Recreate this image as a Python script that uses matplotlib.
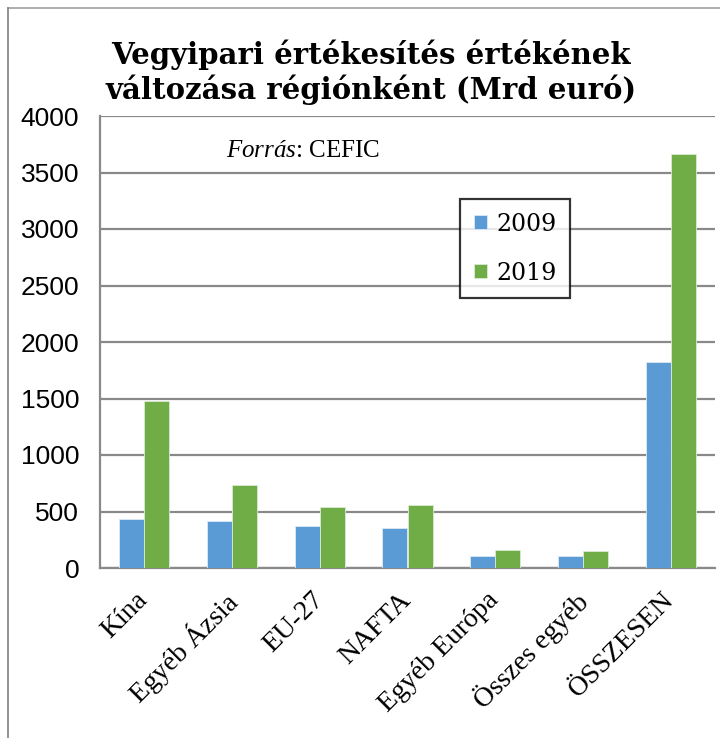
import numpy as np
import matplotlib.pyplot as plt
from matplotlib.lines import Line2D
from matplotlib.transforms import ScaledTranslation

# values (Mrd euro)
categories = ["Kína", "Egyéb Ázsia", "EU-27", "NAFTA", "Egyéb Európa",
              "Összes egyéb", "ÖSSZESEN"]
values_2009 = [435, 418, 372, 354, 102, 108, 1826]
values_2019 = [1482, 735, 537, 560, 160, 150, 3667]
series_names = ["2009", "2019"]
yticks = [0, 500, 1000, 1500, 2000, 2500, 3000, 3500, 4000]

blue = "#5B9BD5"
green = "#70AD47"
grid_grey = "#898989"

plt.rcParams["mathtext.fontset"] = "custom"
plt.rcParams["mathtext.rm"] = "Liberation Serif"
plt.rcParams["mathtext.it"] = "Liberation Serif:italic"

fig = plt.figure(figsize=(7.2, 7.38), dpi=100)
ax = fig.add_axes([100 / 720, 1 - 568 / 738, 615 / 720, 452 / 738])

x = np.arange(len(categories))
w = 0.285
ax.bar(x - w / 2, values_2009, w, color=blue, edgecolor="#dce9f5",
       linewidth=0.6, zorder=3, label=series_names[0])
ax.bar(x + w / 2, values_2019, w, color=green, edgecolor="#dcebd2",
       linewidth=0.6, zorder=3, label=series_names[1])

ax.set_xlim(-0.5, len(categories) - 0.5)
ax.set_ylim(0, 4000)
ax.set_yticks(yticks)
ax.set_yticklabels([str(v) for v in yticks], fontsize=19,
                   family="Liberation Sans")
ax.tick_params(axis="y", length=0, pad=15)
ax.tick_params(axis="x", length=0, pad=14)
ax.yaxis.grid(True, color=grid_grey, linewidth=1.6, zorder=0)
ax.set_axisbelow(True)

ax.set_xticks(x)
ax.set_xticklabels(categories, rotation=45, ha="right", va="top",
                   rotation_mode="anchor", fontsize=20,
                   family="Liberation Serif")
# nudge the slanted labels left so they end just past the group centre
shift = ScaledTranslation(-9 / 100, 0, fig.dpi_scale_trans)
for lbl in ax.get_xticklabels():
    lbl.set_transform(lbl.get_transform() + shift)

for side in ["top", "right"]:
    ax.spines[side].set_visible(False)
for side in ["left", "bottom"]:
    ax.spines[side].set_color(grid_grey)
    ax.spines[side].set_linewidth(1.6)

fig.text(0.515, 1 - 72 / 738,
         "Vegyipari értékesítés értékének\nváltozása régiónként (Mrd euró)",
         ha="center", va="center", fontsize=21, fontweight="bold",
         family="DejaVu Serif", linespacing=1.2)

ax.text(0.205, 0.922, "$\\it{Forrás}$: CEFIC", transform=ax.transAxes,
        fontsize=18, family="Liberation Serif", va="center")

leg = ax.legend(loc="upper left", bbox_to_anchor=((460 - 100) / 615, (568 - 199) / 452),
                frameon=True, fancybox=False, handlelength=0.55,
                handleheight=0.55, labelspacing=1.1, borderpad=0.58,
                borderaxespad=0, handletextpad=0.4,
                prop={"family": "DejaVu Serif", "size": 17})
leg.get_frame().set_edgecolor("black")
leg.get_frame().set_linewidth(1.6)

# outer chart border (top and left edges only visible)
fig.add_artist(Line2D([8 / 720, 1], [1 - 8 / 738, 1 - 8 / 738],
                      color="#a0a0a0", linewidth=1.2, transform=fig.transFigure))
fig.add_artist(Line2D([8 / 720, 8 / 720], [0, 1 - 8 / 738],
                      color="#808080", linewidth=1.2, transform=fig.transFigure))

fig.savefig("out.png", dpi=100, facecolor="white")
